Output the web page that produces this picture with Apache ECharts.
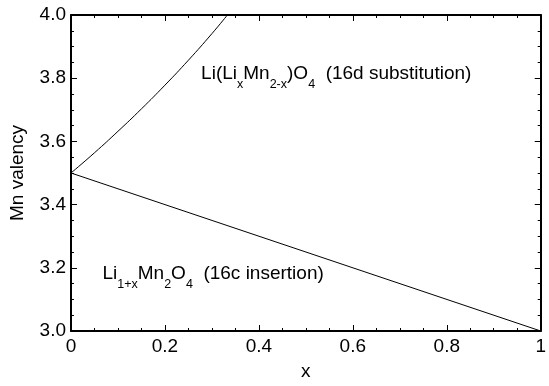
<!DOCTYPE html>
<html><head><meta charset="utf-8">
<script src="https://cdn.jsdelivr.net/npm/echarts@6/dist/echarts.min.js"></script>
<style>html,body{margin:0;padding:0;background:#fff}#c{width:549px;height:386px}</style>
</head><body><div id="c"></div>
<script>
// Data
var subX = [0, 0.05, 0.1, 0.15, 0.2, 0.25, 0.3, 0.333];
var subY = [3.5, 3.564, 3.632, 3.703, 3.778, 3.857, 3.941, 4.0];
var insX = [0, 1];
var insY = [3.5, 3.0];
var xTicks = ['0', '0.2', '0.4', '0.6', '0.8', '1'];
var yTicks = ['3.0', '3.2', '3.4', '3.6', '3.8', '4.0'];
var xName = 'x';
var yName = 'Mn valency';

function pairs(a, b) { return a.map(function (v, i) { return [v, b[i]]; }); }

var FONT = '"Liberation Sans", Arial, Helvetica, sans-serif';
var axisLineStyle = { color: '#000', width: 2 };
function mkX(pos, show) {
  return {
    type: 'value', position: pos, min: 0, max: 1, interval: 0.2,
    name: show ? xName : '', nameLocation: 'middle', nameGap: 31,
    nameTextStyle: { fontFamily: FONT, fontSize: 19, color: '#000' },
    axisLine: { show: true, onZero: false, lineStyle: axisLineStyle },
    axisTick: { show: true, inside: true, length: 6, lineStyle: { color: '#000', width: 1 } },
    minorTick: { show: true, splitNumber: 4, length: 3, lineStyle: { color: '#000', width: 1 } },
    splitLine: { show: false }, minorSplitLine: { show: false },
    axisLabel: { show: show, margin: 6, fontFamily: FONT, fontSize: 19, color: '#000',
      formatter: function (v) { return xTicks[Math.round(v / 0.2)]; } }
  };
}
function mkY(pos, show) {
  return {
    type: 'value', position: pos, min: 3.0, max: 4.0, interval: 0.2,
    name: show ? yName : '', nameLocation: 'middle', nameGap: 44,
    nameTextStyle: { fontFamily: FONT, fontSize: 19, color: '#000' },
    axisLine: { show: true, onZero: false, lineStyle: axisLineStyle },
    axisTick: { show: true, inside: true, length: 6, lineStyle: { color: '#000', width: 1 } },
    minorTick: { show: true, splitNumber: 4, length: 3, lineStyle: { color: '#000', width: 1 } },
    splitLine: { show: false }, minorSplitLine: { show: false },
    axisLabel: { show: show, margin: 5, fontFamily: FONT, fontSize: 19, color: '#000',
      formatter: function (v) { return yTicks[Math.round((v - 3.0) / 0.2)]; } }
  };
}

var chart = echarts.init(document.getElementById('c'), null, { renderer: 'canvas' });
var rich = {
  n: { fontFamily: FONT, fontSize: 19, color: '#000', lineHeight: 20, verticalAlign: 'top' },
  s: { fontFamily: FONT, fontSize: 12.5, color: '#000', lineHeight: 12, padding: [13, 0, 0, 0], verticalAlign: 'top' }
};
chart.setOption({
  animation: false,
  grid: { left: 71, right: 2, top: 15, bottom: 52 },
  xAxis: [mkX('bottom', true), mkX('top', false)],
  yAxis: [mkY('left', true), mkY('right', false)],
  series: [
    { type: 'line', data: pairs(subX, subY), smooth: true, showSymbol: false,
      lineStyle: { color: '#000', width: 1 }, clip: true },
    { type: 'line', data: pairs(insX, insY), showSymbol: false,
      lineStyle: { color: '#000', width: 1 } }
  ]
});
function place() {
  var p1 = chart.convertToPixel({ gridIndex: 0 }, [0.277, 3.843]);
  var p2 = chart.convertToPixel({ gridIndex: 0 }, [0.067, 3.21]);
  chart.setOption({
    graphic: [
      { type: 'text', left: p1[0], top: p1[1], style: {
        text: '{n|Li(Li}{s|x}{n|Mn}{s|2-x}{n|)O}{s|4}{n|  (16d substitution)}', rich: rich } },
      { type: 'text', left: p2[0], top: p2[1], style: {
        text: '{n|Li}{s|1+x}{n|Mn}{s|2}{n|O}{s|4}{n|  (16c insertion)}', rich: rich } }
    ]
  });
}
place();
</script></body></html>
